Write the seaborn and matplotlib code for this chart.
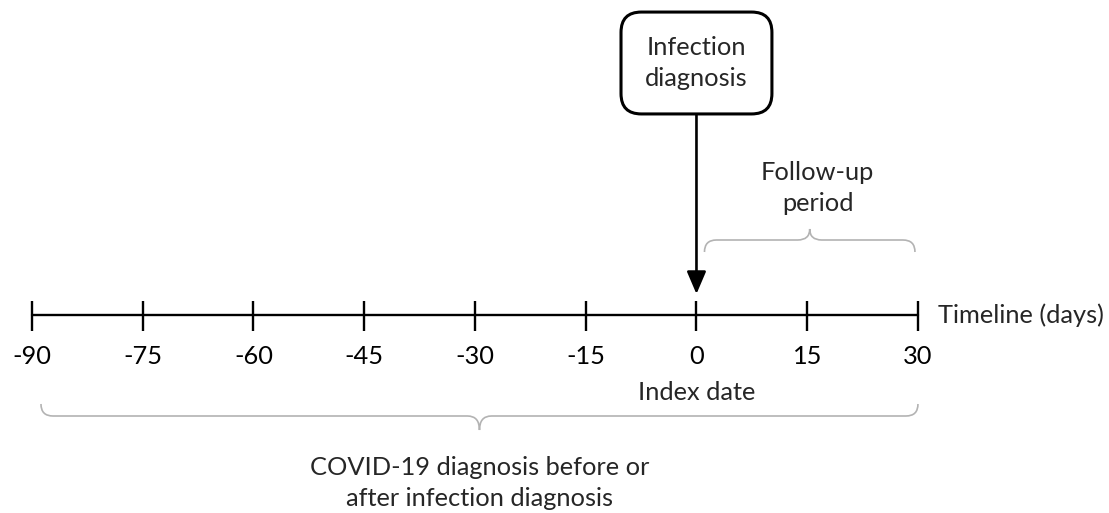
import matplotlib
matplotlib.use("Agg")
import matplotlib.pyplot as plt
import seaborn as sns
import numpy as np
import pandas as pd
from matplotlib.path import Path
from matplotlib.patches import PathPatch

# timeline data
days = [-90, -75, -60, -45, -30, -15, 0, 15, 30]
tick_labels = ["-90", "-75", "-60", "-45", "-30", "-15", "0", "15", "30"]
index_day = 0
followup = [0, 30]
window = [-90, 30]

sns.set_theme(style="white")
plt.rcParams["font.family"] = ["Lato", "DejaVu Sans"]

fig = plt.figure(figsize=(11.09, 5.13), dpi=100)
ax = fig.add_axes([0, 0, 1, 1])
ax.set_xlim(-94.33, 120 / 886 * 1109 - 94.33)
ax.set_ylim(513, 0)
ax.axis("off")

# px per day (horizontal)
ppd = 886 / 120
y_line = 315

df = pd.DataFrame({"day": [days[0], days[-1]], "y": [y_line, y_line]})
sns.lineplot(data=df, x="day", y="y", color="black", lw=1.7, ax=ax)
ax.vlines(days, y_line - 14, y_line + 16, color="black", lw=1.7)

fs = 18.3
for d, lab in zip(days, tick_labels):
    ax.text(d, 357, lab, ha="center", va="center", fontsize=fs, color="black")

ax.text(index_day, 392, "Index date", ha="center", va="center", fontsize=fs)
ax.text(days[-1] + 20 / ppd, y_line, "Timeline (days)", ha="left", va="center", fontsize=fs)


def brace(x0, x1, y_end, y_mid, y_tip, r_px=12):
    r = r_px / ppd
    xc = (x0 + x1) / 2
    verts = [(x0, y_end), (x0, y_mid), (x0 + r, y_mid),
             (xc - r, y_mid), (xc, y_mid), (xc, y_tip),
             (xc, y_mid), (xc + r, y_mid),
             (x1 - r, y_mid), (x1, y_mid), (x1, y_end)]
    codes = [Path.MOVETO, Path.CURVE3, Path.CURVE3,
             Path.LINETO, Path.CURVE3, Path.CURVE3,
             Path.CURVE3, Path.CURVE3,
             Path.LINETO, Path.CURVE3, Path.CURVE3]
    ax.add_patch(PathPatch(Path(verts, codes), fc="none", ec="#b3b3b3", lw=1.2))
    return xc


# lower brace: whole window
xc = brace(window[0] + 9 / ppd, window[1], 404, 416, 430)
ax.text(xc, 483, "COVID-19 diagnosis before or\nafter infection diagnosis",
        ha="center", va="center", fontsize=fs, linespacing=1.4)

# upper brace: follow-up
xc2 = brace(followup[0] + 8 / ppd, followup[1] - 3 / ppd, 252, 240, 229)
ax.text(xc2 + 8 / ppd, 188, "Follow-up\nperiod", ha="center", va="center",
        fontsize=fs, linespacing=1.4)

# event box with arrow to index date
ax.annotate("Infection\ndiagnosis", xy=(index_day, 294), xytext=(index_day, 63),
            ha="center", va="center", fontsize=fs, linespacing=1.4,
            bbox=dict(boxstyle="round,pad=0.95,rounding_size=0.8", fc="white",
                      ec="black", lw=2.2),
            arrowprops=dict(arrowstyle="-|>,head_length=0.75,head_width=0.32",
                            color="black", lw=1.9, shrinkA=0, shrinkB=0))

fig.savefig("out.png", dpi=100, facecolor="white")
